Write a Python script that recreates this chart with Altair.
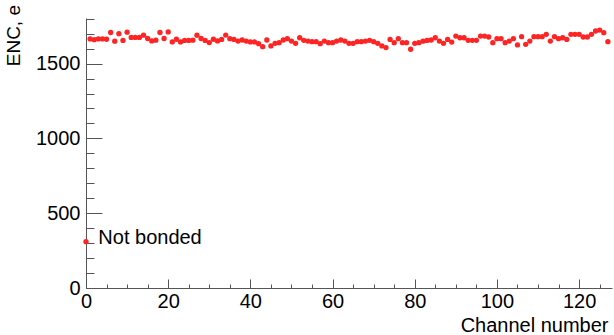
import altair as alt
import pandas as pd

channels = list(range(128))
enc = [
    310, 1665, 1660, 1665, 1665, 1663, 1708, 1650, 1700, 1655,
    1710, 1675, 1675, 1675, 1690, 1668, 1652, 1657, 1708, 1668,
    1712, 1645, 1663, 1645, 1655, 1655, 1657, 1690, 1668, 1655,
    1641, 1663, 1652, 1662, 1691, 1667, 1662, 1651, 1658, 1651,
    1645, 1645, 1633, 1613, 1658, 1618, 1636, 1640, 1658, 1667,
    1651, 1636, 1673, 1656, 1651, 1647, 1647, 1633, 1651, 1640,
    1640, 1651, 1658, 1651, 1636, 1636, 1647, 1647, 1651, 1656,
    1647, 1636, 1618, 1607, 1662, 1640, 1667, 1640, 1640, 1596,
    1636, 1640, 1650, 1655, 1658, 1673, 1651, 1636, 1662, 1644,
    1684, 1673, 1673, 1656, 1656, 1656, 1684, 1684, 1678, 1640,
    1667, 1667, 1640, 1651, 1667, 1625, 1680, 1629, 1651, 1680,
    1680, 1680, 1696, 1651, 1680, 1667, 1673, 1662, 1696, 1696,
    1696, 1678, 1678, 1696, 1718, 1724, 1707, 1647,
]

note_text = ["Not bonded"]
note_x = [3]
note_y = [335]

y_title = ["ENC, e"]

x_major = [0, 20, 40, 60, 80, 100, 120]
x_minor = list(range(0, 128, 5))
y_major = [0, 500, 1000, 1500]
y_minor = list(range(0, 1801, 100))

FONT = "Liberation Sans"
AX = "#555555"

df = pd.DataFrame({"ch": channels, "enc": enc})
note_df = pd.DataFrame({"x": note_x, "y": note_y, "t": note_text})
yt_df = pd.DataFrame({"t": y_title})

xs = alt.Scale(domain=[0, 128], nice=False, zero=False)
ys = alt.Scale(domain=[0, 1805], nice=False)

base = alt.Chart(df)

points = base.mark_circle(size=28, color="#ff2424", opacity=1).encode(
    x=alt.X("ch:Q", scale=xs, axis=alt.Axis(
        orient="bottom", format="d",
        values=x_major, ticks=False, grid=False, domainColor=AX, domainWidth=1,
        labelFontSize=20, labelFont=FONT, labelColor="black", labelPadding=3,
        labelFlush=False, labelOverlap=False,
        title="Channel number", titleFont=FONT, titleFontSize=20,
        titleFontWeight="normal", titleColor="black",
        titleAlign="right", titleBaseline="alphabetic", titleX=522, titleY=43)),
    y=alt.Y("enc:Q", scale=ys, axis=alt.Axis(
        orient="left", format="d",
        values=y_major, ticks=False, grid=False, domainColor=AX, domainWidth=1,
        labelFontSize=20, labelFont=FONT, labelColor="black", labelPadding=6,
        labelFlush=False, labelOverlap=False, title="")),
)

major_ticks = base.mark_point(opacity=0).encode(
    x=alt.X("ch:Q", scale=xs, axis=alt.Axis(
        orient="bottom",
        values=x_major, ticks=True, tickSize=9, tickColor=AX, offset=-9,
        labels=False, domain=False, grid=False, title="")),
    y=alt.Y("enc:Q", scale=ys, axis=alt.Axis(
        orient="left",
        values=y_major, ticks=True, tickSize=16, tickColor=AX, offset=-16,
        labels=False, domain=False, grid=False, title="")),
)

minor_ticks = base.mark_point(opacity=0).encode(
    x=alt.X("ch:Q", scale=xs, axis=alt.Axis(
        orient="bottom",
        values=x_minor, ticks=True, tickSize=4, tickColor=AX, offset=-4,
        labels=False, domain=False, grid=False, title="")),
    y=alt.Y("enc:Q", scale=ys, axis=alt.Axis(
        orient="left",
        values=y_minor, ticks=True, tickSize=8, tickColor=AX, offset=-8,
        labels=False, domain=False, grid=False, title="")),
)

note = alt.Chart(note_df).mark_text(
    align="left", baseline="middle", fontSize=20, font=FONT, color="black"
).encode(
    x=alt.X("x:Q", scale=xs, axis=None),
    y=alt.Y("y:Q", scale=ys, axis=None),
    text="t:N",
)

ytitle = alt.Chart(yt_df).mark_text(
    align="right", baseline="alphabetic", angle=270, fontSize=19,
    font=FONT, color="black", clip=False
).encode(
    x=alt.value(-66),
    y=alt.value(-13),
    text="t:N",
)

chart = alt.layer(points, major_ticks, minor_ticks, note, ytitle).resolve_axis(
    x="independent", y="independent"
).properties(
    width=526, height=270,
    autosize=alt.AutoSizeParams(type="none"),
    padding={"left": 86, "top": 18, "right": 2, "bottom": 47},
    background="white",
).configure_view(stroke=None)

chart.save("out.html", embed_options={"renderer": "svg", "actions": False})
